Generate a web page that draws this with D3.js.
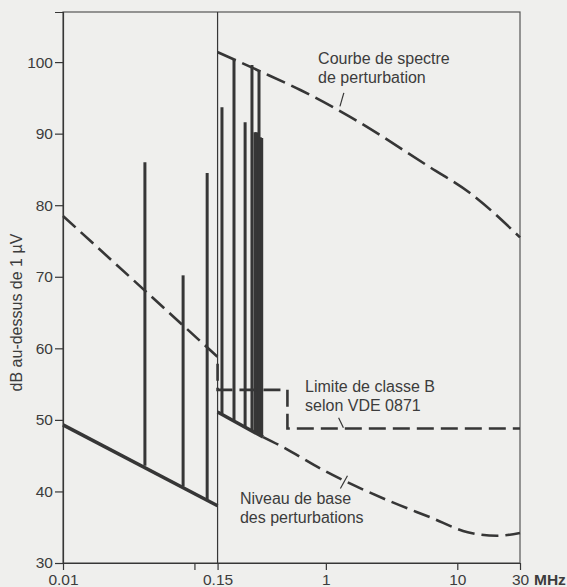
<!DOCTYPE html>
<html>
<head>
    <title>Spectre de perturbation</title>
</head>
<style>
body {
    margin: 0;
    background-color: #efefed;
}
svg text {
    font-family: "Liberation Sans", Arial, sans-serif;
    fill: #3c3c3c;
}
</style>
<body>

<script src="https://cdn.jsdelivr.net/npm/d3@7/dist/d3.min.js"></script>
<script>

// x values in MHz, y values in dB above 1 uV
var xTicks = [0.01, 0.1, 0.15, 1, 10, 30];
var xTickLabels = ["0.01", "", "0.15", "1", "10", "30"];
var yTicks = [30, 40, 50, 60, 70, 80, 90, 100];

// perturbation spectrum envelope (right of 0.15 MHz)
var spectrumFreq = [0.15, 0.3, 0.64, 1.45, 6.2, 12.5, 30];
var spectrumDb   = [101.4, 98.9, 96.1, 92.6, 85.3, 81.7, 75.5];

// class B limit, VDE 0871
var limitFreq = [0.01, 0.15, 0.15, 0.51, 0.51, 30];
var limitDb   = [78.5, 58.8, 54.2, 54.2, 48.8, 48.8];

// base level of perturbations
var baseLeftFreq = [0.01, 0.15];
var baseLeftDb   = [49.3, 38.0];
var baseRightFreq = [0.15, 0.333, 0.45, 0.95, 3.1, 6.2, 12, 20, 30];
var baseRightDb   = [51.1, 47.6, 46.4, 43.0, 38.6, 36.4, 34.3, 33.8, 34.2];
var baseSolidEnd = 0.333;

// spectral lines
var spikeFreq   = [0.042, 0.082, 0.125, 0.162, 0.200, 0.243, 0.274, 0.289, 0.296, 0.303, 0.310, 0.317, 0.325];
var spikeTop    = [86.0, 70.2, 84.5, 93.7, 100.4, 91.6, 99.6, 90.2, 90.2, 90.1, 98.9, 89.5, 89.4];
var spikeBottom = [43.6, 40.7, 38.9, 50.9, 50.0, 49.1, 48.5, 48.3, 48.2, 48.0, 47.9, 47.8, 47.7];

var w = 567;
var h = 587;
var margin = {top: 12, right: 47, bottom: 24, left: 63};
var ink = "#363636";

var svg = d3.select("body").append("svg")
                .attr("width", w)
                .attr("height", h);

var xScale = d3.scaleLog()
                .domain([0.01, 30])
                .range([margin.left, w - margin.right]);
var yScale = d3.scaleLinear()
                .domain([30, 107])
                .range([h - margin.bottom, margin.top]);

var x0 = xScale(0.01), x1 = xScale(30);
var y0 = yScale(30), y1 = yScale(107);

// frame
svg.append("rect")
    .attr("x", x0)
    .attr("y", y1)
    .attr("width", x1 - x0)
    .attr("height", y0 - y1)
    .attr("fill", "none")
    .attr("stroke", "#555")
    .attr("stroke-width", 1.2);

// band divider at 0.15 MHz
svg.append("line")
    .attr("x1", xScale(0.15))
    .attr("x2", xScale(0.15))
    .attr("y1", y1)
    .attr("y2", y0)
    .attr("stroke", ink)
    .attr("stroke-width", 1.2);

// y axis
var yAxis = d3.axisLeft(yScale)
                .tickValues(yTicks)
                .tickSize(8)
                .tickPadding(2);
var gy = svg.append("g")
    .attr("transform", "translate(" + x0 + ",0)")
    .call(yAxis);
gy.select(".domain").attr("stroke", ink).attr("stroke-width", 1.2);
gy.selectAll(".tick line").attr("stroke", ink).attr("stroke-width", 1.2);
gy.selectAll(".tick text")
    .attr("font-size", "15.5px")
    .attr("font-family", null)
    .attr("fill", null);

// x axis
var xAxis = d3.axisBottom(xScale)
                .tickValues(xTicks)
                .tickFormat(function(d, i) { return xTickLabels[i]; })
                .tickSizeInner(7)
                .tickSizeOuter(0)
                .tickPadding(4);
var gx = svg.append("g")
    .attr("transform", "translate(0," + y0 + ")")
    .call(xAxis);
gx.select(".domain").attr("stroke", ink).attr("stroke-width", 1.2);
gx.selectAll(".tick line").attr("stroke", ink).attr("stroke-width", 1.2);
gx.selectAll(".tick text")
    .attr("font-size", "15.5px")
    .attr("font-family", null)
    .attr("fill", null);

svg.append("text")
    .attr("x", x1 + 14)
    .attr("y", y0 + 22)
    .attr("font-size", "15.5px")
    .attr("font-weight", "bold")
    .text("MHz");

// y axis title
svg.append("text")
    .attr("transform", "translate(22," + yScale(65) + ") rotate(-90)")
    .attr("text-anchor", "middle")
    .attr("font-size", "16px")
    .text("dB au-dessus de 1 \u00b5V");

var line = d3.line()
    .x(function(d) { return xScale(d[0]); })
    .y(function(d) { return yScale(d[1]); });
var curve = d3.line()
    .curve(d3.curveMonotoneX)
    .x(function(d) { return xScale(d[0]); })
    .y(function(d) { return yScale(d[1]); });

function pairs(fs, vs) {
    return fs.map(function(f, i) { return [f, vs[i]]; });
}

// spectral lines
svg.selectAll("line.spike")
    .data(spikeFreq)
    .enter()
    .append("line")
    .attr("class", "spike")
    .attr("x1", function(d) { return xScale(d); })
    .attr("x2", function(d) { return xScale(d); })
    .attr("y1", function(d, i) { return yScale(spikeBottom[i]); })
    .attr("y2", function(d, i) { return yScale(spikeTop[i]); })
    .attr("stroke", ink)
    .attr("stroke-width", 3);

// base level: solid under the lines, dashed beyond
svg.append("path")
    .attr("d", line(pairs(baseLeftFreq, baseLeftDb)))
    .attr("fill", "none")
    .attr("stroke", ink)
    .attr("stroke-width", 3.5);

var baseRight = pairs(baseRightFreq, baseRightDb);
svg.append("path")
    .attr("d", line(baseRight.filter(function(d) { return d[0] <= baseSolidEnd; })))
    .attr("fill", "none")
    .attr("stroke", ink)
    .attr("stroke-width", 3.5);
svg.append("path")
    .attr("d", curve(baseRight.filter(function(d) { return d[0] >= baseSolidEnd; })))
    .attr("fill", "none")
    .attr("stroke", ink)
    .attr("stroke-width", 2.6)
    .attr("stroke-dasharray", "17,7");

// class B limit
svg.append("path")
    .attr("d", line(pairs(limitFreq, limitDb)))
    .attr("fill", "none")
    .attr("stroke", ink)
    .attr("stroke-width", 2.6)
    .attr("stroke-dasharray", "17,7");

// spectrum envelope
svg.append("path")
    .attr("d", curve(pairs(spectrumFreq, spectrumDb)))
    .attr("fill", "none")
    .attr("stroke", ink)
    .attr("stroke-width", 2.6)
    .attr("stroke-dasharray", "20,7");

// annotations: anchor (MHz, dB), leader from/to (MHz, dB)
var notes = [
    {f: 0.873, db: 99.7, lines: ["Courbe de spectre", "de perturbation"],
     leader: [[1.37, 95.7], [1.28, 93.8]]},
    {f: 0.695, db: 53.9, lines: ["Limite de classe B", "selon VDE 0871"],
     leader: [[1.25, 50.3], [1.36, 48.9]]},
    {f: 0.222, db: 38.2, lines: ["Niveau de base", "des perturbations"],
     leader: [[1.46, 42.2], [1.29, 40.4]]}
];

notes.forEach(function(n) {
    var t = svg.append("text")
        .attr("x", xScale(n.f))
        .attr("y", yScale(n.db))
        .attr("font-size", "16px");
    t.selectAll("tspan")
        .data(n.lines)
        .enter()
        .append("tspan")
        .attr("x", xScale(n.f))
        .attr("dy", function(d, i) { return i === 0 ? 0 : 19; })
        .text(function(d) { return d; });
    svg.append("path")
        .attr("d", line(n.leader))
        .attr("stroke", ink)
        .attr("stroke-width", 1.2);
});

</script>
</body>
</html>
